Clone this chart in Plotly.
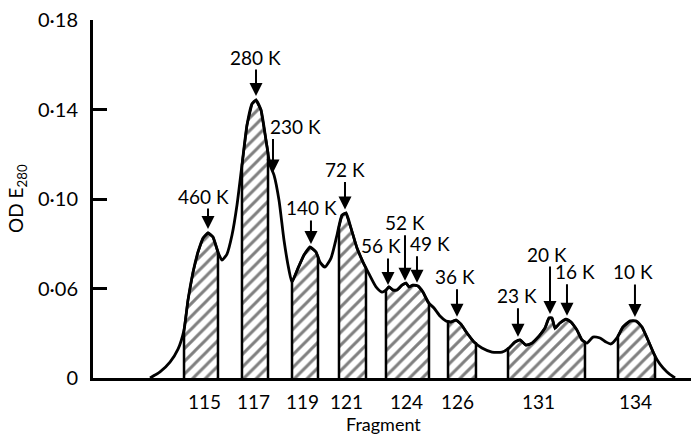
import numpy as np
import plotly.graph_objects as go

# Elution profile: position along the column (arbitrary units) and absorbance
elution = [9.5, 11.17, 12.83, 14.17, 15.17, 15.83, 16.67, 17.5, 18.33, 19.17,
           20.0, 20.83, 21.5, 22.33, 23.17, 24.0, 24.83, 25.67, 26.5, 27.17,
           28.0, 28.83, 29.5, 30.17, 31.0, 31.83, 32.67, 33.17, 34.17, 35.17,
           36.17, 37.17, 37.83, 38.67, 39.67, 40.67, 41.5, 42.17, 43.0, 44.0,
           45.0, 46.0, 47.17, 48.17, 48.83, 49.33, 50.0, 50.67, 51.5, 52.17,
           52.67, 53.33, 54.17, 55.0, 55.83, 56.83, 57.83, 58.83, 59.67, 60.5,
           61.33, 62.33, 63.5, 64.83, 66.5, 68.17, 69.33, 70.33, 71.17, 72.17,
           73.17, 74.33, 75.33, 76.0, 76.5, 77.0, 77.83, 78.83, 79.67, 80.67,
           81.5, 82.33, 83.33, 84.5, 85.5, 86.33, 87.33, 88.33, 89.5, 90.5,
           91.5, 92.5, 93.5, 94.5, 95.67, 97.0]
od280 = [0.020, 0.0227, 0.0271, 0.0329, 0.0414, 0.0548, 0.0673, 0.0763, 0.0825, 0.0848,
         0.0830, 0.0763, 0.0727, 0.0754, 0.0839, 0.0973, 0.1152, 0.1331, 0.1425, 0.1442,
         0.1398, 0.1264, 0.1152, 0.1107, 0.0995, 0.0817, 0.0682, 0.0629, 0.0691, 0.0750,
         0.0785, 0.0763, 0.0718, 0.0696, 0.0736, 0.0839, 0.0928, 0.0937, 0.0870, 0.0781,
         0.0718, 0.0665, 0.0607, 0.0584, 0.0593, 0.0607, 0.0593, 0.0593, 0.0615, 0.0624,
         0.0607, 0.0615, 0.0611, 0.0584, 0.0539, 0.0513, 0.0477, 0.0455, 0.0450, 0.0459,
         0.0441, 0.0401, 0.0361, 0.0334, 0.0316, 0.0316, 0.0334, 0.0361, 0.0370, 0.0347,
         0.0356, 0.0387, 0.0423, 0.0468, 0.0468, 0.0423, 0.0446, 0.0463, 0.0450, 0.0414,
         0.0370, 0.0356, 0.0383, 0.0379, 0.0361, 0.0352, 0.0379, 0.0428, 0.0455, 0.0455,
         0.0428, 0.0370, 0.0307, 0.0262, 0.0227, 0.020]

# Pooled fractions (hatched) and their fragment numbers
pool_start = [15.17, 24.83, 33.17, 41.0, 48.83, 59.17, 69.17, 87.5]
pool_end = [20.83, 29.17, 37.5, 45.5, 56.0, 63.83, 82.0, 93.67]
fragment_pos = [18.5, 26.8, 35.0, 42.2, 52.3, 60.7, 74.2, 90.5]
fragment_labels = ["115", "117", "119", "121", "124", "126", "131", "134"]

# Molecular-weight markers
mw_labels = ["460 K", "280 K", "230 K", "140 K", "72 K", "56 K", "52 K",
             "49 K", "36 K", "23 K", "20 K", "16 K", "10 K"]
mw_pos = [19.17, 27.17, 30.0, 36.33, 42.0, 49.17, 52.0, 54.0, 60.67,
          70.83, 76.17, 79.0, 90.33]

y_ticks = [0.02, 0.06, 0.10, 0.14, 0.18]
y_tick_text = ["0", "0·06", "0·10", "0·14", "0·18"]

baseline = 0.02
FONT = "Lato, 'Open Sans', sans-serif"

x_arr = np.array(elution)
y_arr = np.array(od280)

fig = go.Figure()

# Hatched pools
for x0, x1 in zip(pool_start, pool_end):
    inside = (x_arr > x0) & (x_arr < x1)
    xs = [x0, x0] + list(x_arr[inside]) + [x1, x1]
    ys = ([baseline, float(np.interp(x0, x_arr, y_arr))] + list(y_arr[inside])
          + [float(np.interp(x1, x_arr, y_arr)), baseline])
    fig.add_trace(go.Scatter(
        x=xs, y=ys, mode="lines", fill="toself", fillcolor="white",
        fillpattern=dict(shape="/", size=9, solidity=0.33,
                         fgcolor="black", bgcolor="white"),
        line=dict(color="black", width=2.5), hoverinfo="skip", showlegend=False))

# Profile curve
fig.add_trace(go.Scatter(x=elution, y=od280, mode="lines",
                         line=dict(color="black", width=2.8, shape="spline",
                                   smoothing=0.6),
                         showlegend=False))

# Arrow geometry for the markers (pixels)
arrow_len = [22, 28, 35, 25, 29, 28, 47, 28, 29, 30, 49, 33, 34]
label_dx = [-5, -1, 23, 1, 0, -7, 0, 13, -2, -1, -3, 8, -2]
gaps = [4, 4, 0, 4, 4, 3, 3, 3, 4, 4, 4, 4, 4]

for lab, xp, L, dx, g in zip(mw_labels, mw_pos, arrow_len, label_dx, gaps):
    yp = float(np.interp(xp, x_arr, y_arr))
    fig.add_annotation(x=xp, y=yp, text="", showarrow=True, ax=0, ay=-(L + g),
                       standoff=g, arrowhead=2, arrowsize=1.3, arrowwidth=2,
                       arrowcolor="black")
    fig.add_annotation(x=xp, y=yp, text=lab, showarrow=False, yanchor="middle",
                       yshift=L + g + 11, xshift=dx,
                       font=dict(family=FONT, size=19, color="black"))

# Fragment labels under the pools
for xp, lab in zip(fragment_pos, fragment_labels):
    fig.add_annotation(x=xp, y=0, yref="paper", text=lab, showarrow=False,
                       yanchor="middle", yshift=-23,
                       font=dict(family=FONT, size=19, color="black"))

fig.add_annotation(x=0.486, y=0, xref="paper", yref="paper", text="Fragment",
                   showarrow=False, yanchor="middle", yshift=-46,
                   font=dict(family=FONT, size=18, color="black"))
fig.add_annotation(x=0, y=0.5, xref="paper", yref="paper",
                   text="OD E<sub>280</sub>", showarrow=False, textangle=-90,
                   xanchor="center", yanchor="middle", xshift=-76,
                   font=dict(family=FONT, size=19, color="black"))

fig.update_xaxes(range=[0, 99.67], showgrid=False, zeroline=False,
                 showticklabels=False, ticks="", showline=True,
                 linecolor="black", linewidth=3)
fig.update_yaxes(range=[baseline, 0.18], showgrid=False, zeroline=False,
                 tickvals=y_ticks, ticktext=y_tick_text, ticks="inside",
                 ticklen=14, tickwidth=3, tickcolor="black", showline=True,
                 linecolor="black", linewidth=3, ticklabelstandoff=8,
                 tickfont=dict(family=FONT, size=20, color="black"))

fig.update_layout(width=691, height=436, margin=dict(l=93, r=0, t=20, b=58),
                  plot_bgcolor="white", paper_bgcolor="white")

fig.write_html("out.html")
